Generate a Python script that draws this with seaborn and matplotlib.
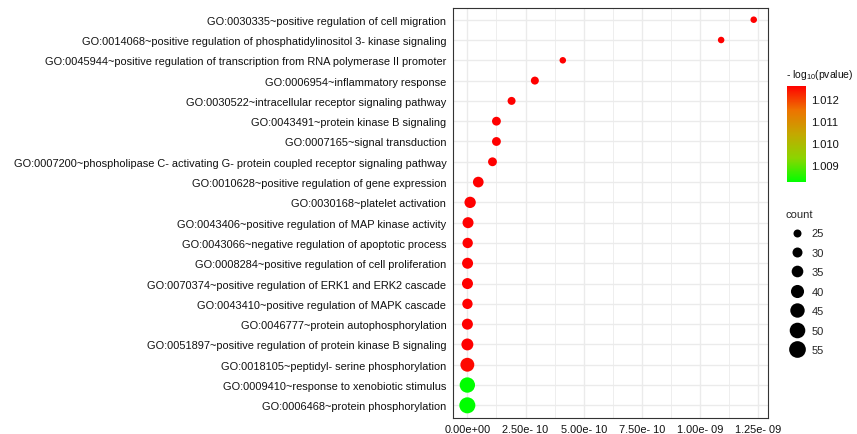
import numpy as np
import pandas as pd
import matplotlib
matplotlib.use("Agg")
import matplotlib.pyplot as plt
import seaborn as sns
from matplotlib.colors import LinearSegmentedColormap, Normalize
from matplotlib.cm import ScalarMappable
from matplotlib.lines import Line2D
from matplotlib.ticker import AutoMinorLocator

# ---------- data ----------
terms = [
    "GO:0030335~positive regulation of cell migration",
    "GO:0014068~positive regulation of phosphatidylinositol 3- kinase signaling",
    "GO:0045944~positive regulation of transcription from RNA polymerase II promoter",
    "GO:0006954~inflammatory response",
    "GO:0030522~intracellular receptor signaling pathway",
    "GO:0043491~protein kinase B signaling",
    "GO:0007165~signal transduction",
    "GO:0007200~phospholipase C- activating G- protein coupled receptor signaling pathway",
    "GO:0010628~positive regulation of gene expression",
    "GO:0030168~platelet activation",
    "GO:0043406~positive regulation of MAP kinase activity",
    "GO:0043066~negative regulation of apoptotic process",
    "GO:0008284~positive regulation of cell proliferation",
    "GO:0070374~positive regulation of ERK1 and ERK2 cascade",
    "GO:0043410~positive regulation of MAPK cascade",
    "GO:0046777~protein autophosphorylation",
    "GO:0051897~positive regulation of protein kinase B signaling",
    "GO:0018105~peptidyl- serine phosphorylation",
    "GO:0009410~response to xenobiotic stimulus",
    "GO:0006468~protein phosphorylation",
]
pvalue = [1.23e-09, 1.09e-09, 4.1e-10, 2.9e-10, 1.9e-10, 1.25e-10, 1.25e-10, 1.08e-10,
          4.7e-11, 1.2e-11, 3e-12, 1.5e-12, 1e-12, 6e-13, 5e-13, 3e-13, 2e-13, 1e-13,
          2e-14, 1e-15]
neg_log = [1.0126, 1.0126, 1.0126, 1.0126, 1.0126, 1.0126, 1.0126, 1.0126, 1.0126, 1.0126,
           1.0126, 1.0126, 1.0126, 1.0126, 1.0126, 1.0126, 1.0126, 1.0125, 1.0082, 1.0082]
count = [22, 22, 22, 25, 25, 27, 27, 27, 32, 34, 33, 31, 33, 33, 31, 33, 36, 43, 49, 52]

x_ticks = [0, 2.5e-10, 5e-10, 7.5e-10, 1e-09, 1.25e-09]
x_tick_labels = ["0.00e+00", "2.50e- 10", "5.00e- 10", "7.50e- 10", "1.00e- 09", "1.25e- 09"]
cbar_ticks = [1.009, 1.010, 1.011, 1.012]
count_levels = [25, 30, 35, 40, 45, 50, 55]

df = pd.DataFrame({"term": terms, "pvalue": pvalue, "neglog": neg_log, "count": count})

# ---------- style ----------
sns.set_style("white")
plt.rcParams["font.family"] = ["Liberation Sans", "DejaVu Sans"]
plt.rcParams["mathtext.fontset"] = "custom"
plt.rcParams["mathtext.rm"] = "Liberation Sans"
plt.rcParams["mathtext.it"] = "Liberation Sans:italic"

cmap = LinearSegmentedColormap.from_list(
    "gr", ["#00FF00", "#8CD500", "#C4A800", "#EE7200", "#FF0000"])
cnorm = Normalize(vmin=min(neg_log), vmax=max(neg_log))
size_range = (14.6, 144.5)
size_norm = (20, 55)

fig = plt.figure(figsize=(8.57, 4.35), dpi=100)
ax = fig.add_axes([0.5286, 0.0379, 0.3676, 0.9425])

sns.scatterplot(data=df, x="pvalue", y="term", hue="neglog", palette=cmap, hue_norm=cnorm,
                size="count", sizes=size_range, size_norm=size_norm,
                linewidth=0, alpha=1, legend=False, ax=ax, zorder=3)

span = max(pvalue) - min(pvalue)
ax.set_xlim(min(pvalue) - 0.05 * span, max(pvalue) + 0.05 * span)
ax.set_ylim(len(terms) - 0.4, -0.6)
ax.set_xticks(x_ticks)
ax.set_xticklabels(x_tick_labels)
ax.xaxis.set_minor_locator(AutoMinorLocator(2))
ax.set_xlabel("")
ax.set_ylabel("")

ax.grid(True, which="major", color="#EBEBEB", linewidth=1.0, zorder=0)
ax.grid(True, which="minor", axis="x", color="#EBEBEB", linewidth=0.6, zorder=0)
ax.set_axisbelow(True)
for s in ax.spines.values():
    s.set_visible(True)
    s.set_color("#333333")
    s.set_linewidth(0.8)
ax.tick_params(axis="both", which="major", length=2.8, width=0.7, color="#333333",
               labelsize=7.95, labelcolor="#111111", pad=2)
ax.tick_params(axis="both", which="minor", length=0)

# ---------- colour bar ----------
cax = fig.add_axes([0.918, 0.5786, 0.0225, 0.2221])
sm = ScalarMappable(norm=cnorm, cmap=cmap)
cb = fig.colorbar(sm, cax=cax, ticks=cbar_ticks)
cb.outline.set_visible(False)
cb.ax.set_yticklabels([f"{t:.3f}" for t in cbar_ticks])
cax.yaxis.set_ticks_position("both")
cax.tick_params(direction="in", color="white", length=3.5, width=0.6,
                labelsize=8, labelcolor="#111111", pad=4, labelleft=False, labelright=True)
fig.text(0.917, 1 - 75.5 / 435, r"- log$_{10}$(pvalue)", fontsize=7.5, va="center", ha="left",
         color="#111111")

# ---------- size legend ----------
def count_to_area(c):
    lo, hi = size_norm
    return size_range[0] + (c - lo) / (hi - lo) * (size_range[1] - size_range[0])

handles = [Line2D([], [], linestyle="", marker="o", markersize=np.sqrt(count_to_area(c)),
                  markerfacecolor="black", markeredgewidth=0) for c in count_levels]
leg = fig.legend(handles, [str(c) for c in count_levels], title="count",
                 loc="upper left", bbox_to_anchor=(0.9175, 1 - 205.5 / 435),
                 frameon=False, fontsize=8, title_fontsize=8, labelspacing=0.85,
                 handlelength=1.2, handletextpad=0.68, borderaxespad=0)
leg._legend_box.align = "left"
leg.get_title().set_position((-5, 0))

fig.savefig("out.png", dpi=100)
